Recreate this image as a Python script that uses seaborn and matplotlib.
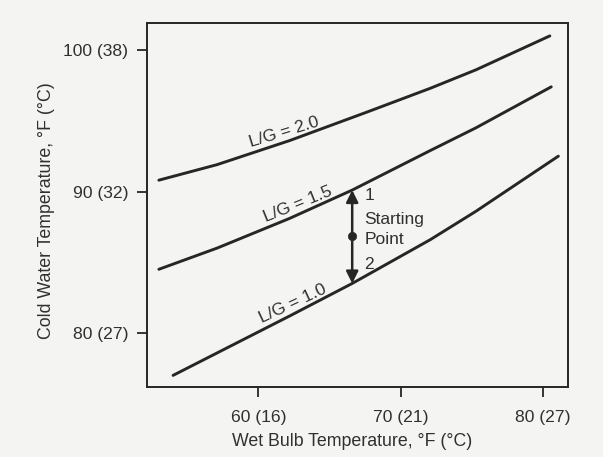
import matplotlib
matplotlib.use("Agg")
import matplotlib.pyplot as plt
import seaborn as sns
import pandas as pd

# Wet bulb temperature (°F) and cold water temperature (°F) along each L/G curve
lg20_wb = [53.0, 57.1, 62.2, 67.6, 72.1, 75.3, 80.5]
lg20_cw = [90.8, 91.9, 93.6, 95.6, 97.3, 98.6, 101.0]
lg15_wb = [53.0, 57.1, 62.2, 66.6, 72.1, 75.3, 80.6]
lg15_cw = [84.5, 86.0, 88.1, 90.1, 92.9, 94.5, 97.4]
lg10_wb = [54.0, 58.0, 62.2, 66.6, 72.1, 75.3, 81.1]
lg10_cw = [77.0, 79.05, 81.2, 83.5, 86.6, 88.6, 92.5]

curve_names = ["L/G = 2.0", "L/G = 1.5", "L/G = 1.0"]

# Starting point between the L/G = 1.5 and L/G = 1.0 curves
start_wb = 66.6
start_cw = 86.85
point1_cw = 90.1
point2_cw = 83.5

xticks = [60, 70, 80]
xtick_labels = ["60 (16)", "70 (21)", "80 (27)"]
yticks = [80, 90, 100]
ytick_labels = ["80 (27)", "90 (32)", "100 (38)"]

frames = []
for name, wb, cw in zip(curve_names,
                        [lg20_wb, lg15_wb, lg10_wb],
                        [lg20_cw, lg15_cw, lg10_cw]):
    frames.append(pd.DataFrame({"wb": wb, "cw": cw, "curve": name}))
df = pd.concat(frames, ignore_index=True)

sns.set_theme(style="ticks")
plt.rcParams["font.family"] = ["Liberation Sans", "DejaVu Sans"]

bg = "#f4f4f3"
ink = "#262626"
text_c = "#303030"

fig = plt.figure(figsize=(6.03, 4.57), dpi=100, facecolor=bg)
ax = fig.add_axes([0.2443, 0.1538, 0.6982, 0.7952], facecolor=bg)

sns.lineplot(data=df, x="wb", y="cw", units="curve", estimator=None,
             sort=False, color=ink, linewidth=2.1, ax=ax, legend=False)

# double-headed arrow between the two curves, with the starting point dot
ax.annotate("", xy=(start_wb, point1_cw), xytext=(start_wb, point2_cw),
            arrowprops=dict(arrowstyle="<|-|>", color=ink, lw=1.8,
                            mutation_scale=18, shrinkA=0, shrinkB=0))
sns.scatterplot(x=[start_wb], y=[start_cw], color=ink, s=36, ax=ax,
                edgecolor=ink, legend=False, zorder=5)

fs = 12.5
ax.text(61.84, 94.2, curve_names[0], rotation=17, ha="center", va="center",
        fontsize=fs, color=text_c, rotation_mode="anchor")
ax.text(62.8, 89.12, curve_names[1], rotation=22, ha="center", va="center",
        fontsize=fs, color=text_c, rotation_mode="anchor")
ax.text(62.45, 82.08, curve_names[2], rotation=25, ha="center", va="center",
        fontsize=fs, color=text_c, rotation_mode="anchor")

ax.text(67.45, 89.7, "1", ha="left", va="center", fontsize=fs, color=text_c)
ax.text(67.45, 88.0, "Starting", ha="left", va="center", fontsize=fs, color=text_c)
ax.text(67.45, 86.59, "Point", ha="left", va="center", fontsize=fs, color=text_c)
ax.text(67.45, 84.86, "2", ha="left", va="center", fontsize=fs, color=text_c)

ax.set_xlim(52.19, 81.80)
ax.set_ylim(76.2, 101.89)
ax.set_xticks(xticks)
ax.set_xticklabels(xtick_labels)
ax.set_yticks(yticks)
ax.set_yticklabels(ytick_labels)

for side in ["left", "right", "top", "bottom"]:
    ax.spines[side].set_visible(True)
    ax.spines[side].set_color(ink)
    ax.spines[side].set_linewidth(1.4)

ax.tick_params(axis="both", direction="out", length=7, width=1.3,
               color=ink, labelcolor=text_c, labelsize=12.6)
ax.tick_params(axis="x", pad=9.5)
ax.tick_params(axis="y", pad=6.5)

ax.set_xlabel("Wet Bulb Temperature, °F (°C)", fontsize=12.8, color=text_c,
              va="center", ha="center")
ax.set_ylabel("Cold Water Temperature, °F (°C)", fontsize=12.8, color=text_c,
              va="center", ha="center")
ax.xaxis.set_label_coords(0.487, -0.151)
ax.yaxis.set_label_coords(-0.24, 0.484)

fig.savefig("out.png", dpi=100, facecolor=bg)
